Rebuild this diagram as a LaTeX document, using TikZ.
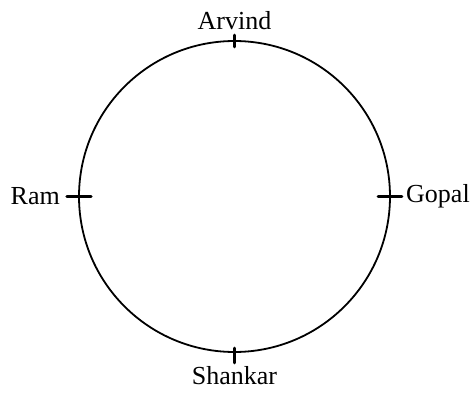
\documentclass[tikz,border=0pt]{standalone}
\usepackage{fontspec}
\setmainfont{Liberation Serif}
\begin{document}
\begin{tikzpicture}[x=1pt,y=-1pt,line cap=round,line join=round,font=\fontsize{26}{30}\selectfont]
  \useasboundingbox (0,0) rectangle (475,394);
  \coordinate (O) at (234.5,196.5);
  \coordinate (T) at (234.5,41);
  \coordinate (B) at (234.5,352);
  \coordinate (L) at (79,196.5);
  \coordinate (R) at (390,196.5);
  \draw[line width=1.8pt] (O) circle[radius=155.5];
  \draw[line width=2.6pt] ([yshift=6]T) -- ([yshift=-6]T);
  \draw[line width=2.6pt] ([yshift=4]B) -- ([yshift=-11]B);
  \draw[line width=3.4pt] ([xshift=-12]L) -- ([xshift=12]L);
  \draw[line width=2.6pt] ([xshift=-12]R) -- ([xshift=12]R);
  \node[anchor=south,inner sep=0pt] (arvind) at ([yshift=11]T) {Arvind};
  \node[anchor=north,inner sep=0pt] (shankar) at ([yshift=-14]B) {Shankar};
  \node[anchor=east,inner sep=0pt] (ram) at ([xshift=-19]L) {Ram};
  \node[anchor=west,inner sep=0pt] (gopal) at ([xshift=16]R) {Gopal};
\end{tikzpicture}
\end{document}
